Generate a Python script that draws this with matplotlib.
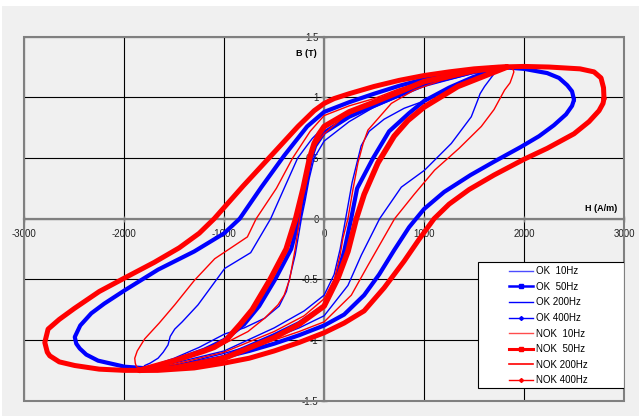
import matplotlib
matplotlib.use("Agg")
import matplotlib.pyplot as plt
from matplotlib.lines import Line2D
from matplotlib.patches import Rectangle

plt.rcParams['font.family'] = ['Liberation Sans', 'DejaVu Sans']

# B-H loops, each path goes around the whole loop (upper branch, then lower branch)
ok_10_h = [1820, 1500, 1000, 500, 250, 0, -100, -150, -190, -228, -290, -378, -450, -595, -800, -995, -1250, -1500, -1820,
           -1820, -1500, -1000, -500, -200, 0, 100, 160, 215, 280, 370, 450, 600, 800, 1000, 1250, 1500, 1820]
ok_10_b = [1.25, 1.20, 1.09, 0.92, 0.80, 0.64, 0.50, 0.33, 0.15, 0.0, -0.30, -0.60, -0.72, -0.82, -0.90, -0.95, -1.06, -1.15, -1.24,
           -1.25, -1.19, -1.09, -0.90, -0.76, -0.63, -0.46, -0.25, 0.0, 0.30, 0.60, 0.72, 0.82, 0.91, 0.97, 1.07, 1.16, 1.25]

ok_50_h = [1820, 1500, 1000, 500, 250, 0, -90, -130, -190, -250, -330, -490, -650, -800, -1000, -1200, -1500, -1830,
           -1830, -1500, -1000, -500, -250, 0, 120, 200, 270, 330, 490, 650, 850, 1000, 1250, 1500, 1820]
ok_50_b = [1.25, 1.21, 1.11, 0.93, 0.84, 0.71, 0.60, 0.50, 0.25, 0.0, -0.25, -0.50, -0.72, -0.87, -1.0, -1.08, -1.17, -1.25,
           -1.25, -1.22, -1.14, -0.96, -0.86, -0.72, -0.50, -0.27, 0.0, 0.25, 0.50, 0.72, 0.87, 0.97, 1.08, 1.17, 1.25]

ok_200_h = [1822, 1700, 1500, 1250, 1000, 750, 500, 250, 0, -120, -265, -395, -535, -735, -995, -1262, -1420, -1495, -1540,
            -1562, -1610, -1662, -1740, -1795, -1825,
            -1800, -1500, -1250, -1000, -750, -500, -250, 0, 238, 372, 555, 772, 1005, 1272, 1472, 1538, 1560, 1605,
            1705, 1822]
ok_200_b = [1.25, 1.24, 1.21, 1.17, 1.12, 1.05, 0.97, 0.88, 0.76, 0.66, 0.50, 0.26, 0.0, -0.28, -0.41, -0.71, -0.85, -0.91, -0.97,
            -1.04, -1.10, -1.15, -1.19, -1.21, -1.24,
            -1.25, -1.21, -1.16, -1.11, -1.05, -0.98, -0.90, -0.80, -0.55, -0.30, 0.0, 0.26, 0.40, 0.62, 0.84, 0.98, 1.03, 1.09,
            1.20, 1.25]

ok_400_h = [2500, 2480, 2432, 2350, 2232, 2000, 1765, 1500, 1250, 1000, 750, 500, 250, 0, -170, -400, -628, -845, -1000,
            -1300, -1662, -1995, -2200, -2330, -2440, -2495,
            -2480, -2445, -2380, -2262, -1995, -1662, -1300, -1000, -750, -500, -250, 0, 200, 400, 550, 700, 850, 1000,
            1200, 1465, 1700, 1965, 2150, 2298, 2420, 2480, 2500]
ok_400_b = [0.98, 1.05, 1.10, 1.16, 1.20, 1.235, 1.25, 1.23, 1.19, 1.15, 1.095, 1.03, 0.96, 0.88, 0.76, 0.52, 0.26, 0.0, -0.12,
            -0.27, -0.42, -0.59, -0.70, -0.78, -0.88, -0.975,
            -1.03, -1.07, -1.12, -1.17, -1.22, -1.24, -1.20, -1.14, -1.09, -1.03, -0.96, -0.88, -0.79, -0.63, -0.46, -0.26,
            -0.07, 0.08, 0.22, 0.36, 0.47, 0.59, 0.68, 0.77, 0.86, 0.93, 0.98]

nok_10_h = [1822, 1500, 1000, 500, 200, 0, -110, -170, -210, -245, -290, -345, -400, -462, -595, -762, -1000, -1250, -1500, -1850,
            -1850, -1500, -1000, -500, -200, 0, 105, 160, 188, 238, 290, 338, 390, 438, 672, 900, 1172, 1500, 1822]
nok_10_b = [1.25, 1.21, 1.12, 0.96, 0.84, 0.70, 0.58, 0.42, 0.20, 0.0, -0.25, -0.50, -0.63, -0.71, -0.82, -0.93, -1.03, -1.11, -1.17, -1.245,
            -1.25, -1.20, -1.10, -0.93, -0.80, -0.66, -0.49, -0.30, -0.16, 0.0, 0.25, 0.46, 0.62, 0.73, 0.95, 1.06, 1.14, 1.21, 1.25]

nok_50_h = [1830, 1500, 1000, 500, 250, 0, -50, -100, -145, -210, -285, -380, -540, -720, -840, -980, -1100, -1200, -1500, -1850,
            -1850, -1500, -1000, -500, -250, 0, 138, 238, 322, 400, 538, 700, 838, 1000, 1338, 1830]
nok_50_b = [1.25, 1.22, 1.13, 0.96, 0.88, 0.76, 0.70, 0.62, 0.50, 0.25, 0.0, -0.25, -0.50, -0.75, -0.87, -1.0, -1.06, -1.09, -1.17, -1.25,
            -1.25, -1.23, -1.15, -0.98, -0.87, -0.72, -0.49, -0.27, 0.0, 0.20, 0.46, 0.68, 0.81, 0.92, 1.09, 1.25]

nok_200_h = [1798, 1500, 1250, 1000, 750, 500, 250, 0, -140, -315, -478, -680, -768, -1095, -1300, -1495, -1650, -1795,
             -1870, -1895, -1890, -1878,
             -1800, -1500, -1250, -1000, -750, -500, -250, 0, 272, 438, 705, 900, 1105, 1350, 1572, 1700, 1805, 1860,
             1882, 1898, 1890, 1865, 1798]
nok_200_b = [1.25, 1.22, 1.18, 1.13, 1.07, 0.99, 0.93, 0.85, 0.72, 0.50, 0.25, 0.0, -0.15, -0.33, -0.51, -0.71, -0.86, -0.99,
             -1.09, -1.15, -1.19, -1.22,
             -1.245, -1.22, -1.18, -1.13, -1.07, -1.0, -0.93, -0.85, -0.63, -0.385, 0.0, 0.20, 0.40, 0.58, 0.76, 0.90, 1.06,
             1.12, 1.17, 1.21, 1.23, 1.24, 1.25]

nok_400_h = [2800, 2795, 2770, 2700, 2560, 2250, 2000, 1750, 1500, 1250, 1000, 750, 500, 250, 100, 0, -100, -262, -530,
             -810, -1100, -1250, -1450, -1700, -2000, -2250, -2500, -2650, -2762, -2795,
             -2770, -2745, -2650, -2495, -2250, -1995, -1665, -1300, -1000, -750, -500, -250, 0, 200, 400, 600, 800, 950,
             1100, 1250, 1450, 1700, 2000, 2232, 2500, 2650, 2750, 2790, 2800]
nok_400_b = [0.99, 1.08, 1.16, 1.21, 1.235, 1.25, 1.255, 1.25, 1.235, 1.21, 1.18, 1.14, 1.09, 1.03, 0.99, 0.95, 0.89, 0.76, 0.52,
             0.27, 0.0, -0.12, -0.24, -0.36, -0.49, -0.60, -0.74, -0.83, -0.91, -1.02,
             -1.10, -1.13, -1.18, -1.21, -1.24, -1.25, -1.25, -1.23, -1.19, -1.15, -1.09, -1.02, -0.94, -0.86, -0.76, -0.57,
             -0.35, -0.17, 0.0, 0.12, 0.24, 0.36, 0.49, 0.58, 0.70, 0.80, 0.89, 0.95, 0.99]

x_ticks = [-3000, -2000, -1000, 0, 1000, 2000, 3000]
y_ticks = [-1.5, -1, -0.5, 0, 0.5, 1, 1.5]

blue = '#0000ff'
red = '#ff0000'
gray = '#808080'

fig = plt.figure(figsize=(6.39, 4.16), dpi=100, facecolor='#f0f0f0')
fig.patches.append(Rectangle((0, 410 / 416), 1, 6 / 416, transform=fig.transFigure,
                             facecolor='white', edgecolor='none'))
fig.patches.append(Rectangle((0, 0), 2 / 639, 1, transform=fig.transFigure,
                             facecolor='white', edgecolor='none'))
ax = fig.add_axes([24.3 / 639, 15.3 / 416, 599.7 / 639, 364 / 416])
ax.set_facecolor('#f0f0f0')

# series in excel order, later ones on top
series = [
    (ok_10_h, ok_10_b, blue, 1.0),
    (ok_50_h, ok_50_b, blue, 3.0),
    (ok_200_h, ok_200_b, blue, 1.0),
    (ok_400_h, ok_400_b, blue, 3.0),
    (nok_10_h, nok_10_b, red, 1.0),
    (nok_50_h, nok_50_b, red, 4.0),
    (nok_200_h, nok_200_b, red, 1.0),
    (nok_400_h, nok_400_b, red, 3.6),
]
for h, b, c, lw in series:
    ax.plot(h, b, color=c, lw=lw, zorder=3, solid_joinstyle='round', solid_capstyle='round')

ax.set_xlim(-3000, 3000)
ax.set_ylim(-1.5, 1.5)
ax.set_xticks(x_ticks)
ax.set_yticks(y_ticks)
ax.set_xticklabels([f'{v:g}' for v in x_ticks])
ax.set_yticklabels([f'{v:g}' for v in y_ticks])
ax.grid(True, color='black', lw=0.8, zorder=1)

for s in ['top', 'right']:
    ax.spines[s].set_visible(False)
for s in ['left', 'bottom']:
    ax.spines[s].set_position(('data', 0))
    ax.spines[s].set_color(gray)
    ax.spines[s].set_linewidth(1.6)
    ax.spines[s].set_zorder(2)
ax.add_patch(Rectangle((0, 0), 1, 1, transform=ax.transAxes, fill=False,
                       edgecolor=gray, lw=1.5, zorder=2, clip_on=False))
ax.tick_params(direction='inout', length=4, width=1, color=gray,
               labelsize=7, labelcolor='#222222', pad=2)
ax.tick_params(axis='x', pad=5.5)

ax.text(-75, 1.363, 'B (T)', ha='right', va='center', fontsize=6.5, fontweight='bold')
ax.text(2935, 0.085, 'H (A/m)', ha='right', va='center', fontsize=6.5, fontweight='bold')

ax.add_patch(Rectangle((0.7566, 0.035), 0.2434, 0.346, transform=ax.transAxes,
                       facecolor='white', edgecolor='black', lw=0.8, zorder=5))
handles = [
    Line2D([], [], color=blue, lw=1.0, alpha=0.7),
    Line2D([], [], color=blue, lw=1.8, marker='s', markersize=3),
    Line2D([], [], color=blue, lw=1.0),
    Line2D([], [], color=blue, lw=1.0, marker='D', markersize=2),
    Line2D([], [], color=red, lw=1.0, alpha=0.7),
    Line2D([], [], color=red, lw=2.2, marker='s', markersize=3),
    Line2D([], [], color=red, lw=1.2),
    Line2D([], [], color=red, lw=1.0, marker='D', markersize=2),
]
labels = ['OK  10Hz', 'OK  50Hz', 'OK 200Hz', 'OK 400Hz',
          'NOK  10Hz', 'NOK  50Hz', 'NOK 200Hz', 'NOK 400Hz']
leg = ax.legend(handles, labels, loc='upper left', bbox_to_anchor=(0.808, 0.370),
                frameon=False, fontsize=7, handlelength=2.5, handletextpad=0.25,
                labelspacing=0.58, borderpad=0, borderaxespad=0)
leg.set_zorder(6)

fig.savefig('out.png', dpi=100, facecolor=fig.get_facecolor())
